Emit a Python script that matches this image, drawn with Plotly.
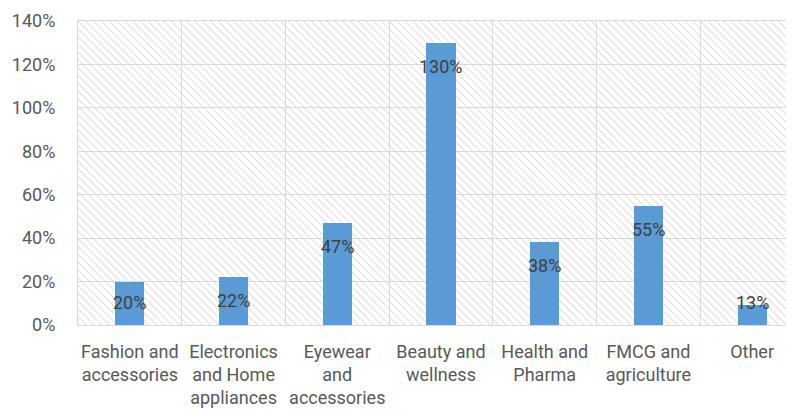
import plotly.graph_objects as go

categories = ["Fashion and<br>accessories", "Electronics<br>and Home<br>appliances",
              "Eyewear<br>and<br>accessories", "Beauty and<br>wellness",
              "Health and<br>Pharma", "FMCG and<br>agriculture", "Other"]
values = [20, 22, 47, 130, 38, 55, 9]
labels = ["20%", "22%", "47%", "130%", "38%", "55%", "13%"]
y_ticks = [0, 20, 40, 60, 80, 100, 120, 140]
y_tick_text = ["0%", "20%", "40%", "60%", "80%", "100%", "120%", "140%"]
y_max = 140

FONT = "Roboto, Arial, sans-serif"
GRID = "#d9d9d9"

fig = go.Figure()

# hatched plot-area background
fig.add_trace(go.Bar(
    x=categories, y=[y_max] * len(categories), width=1,
    marker=dict(color="#dadada", line=dict(width=0),
                pattern=dict(shape="\\", size=5.5, solidity=0.18,
                             fillmode="replace", bgcolor="rgba(0,0,0,0)")),
    hoverinfo="skip", showlegend=False))

fig.add_trace(go.Bar(
    x=categories, y=values, width=0.28,
    marker=dict(color="#5b9bd5", line=dict(width=0)),
    hoverinfo="skip", showlegend=False))

for c, v, t in zip(categories, values, labels):
    fig.add_annotation(x=c, y=max(v - 10.8, 10.5), text=t, showarrow=False,
                       xanchor="center", yanchor="middle",
                       font=dict(family=FONT, size=18, color="#404040"))

fig.update_layout(
    width=786, height=406,
    margin=dict(l=70, r=0, t=13, b=89),
    paper_bgcolor="white", plot_bgcolor="white",
    barmode="overlay", bargap=0,
    font=dict(family=FONT, size=18, color="#595959"),
    xaxis=dict(type="category", range=[-0.5, 6.404], tickson="boundaries",
               showgrid=True, gridcolor=GRID, gridwidth=1,
               showline=True, linecolor=GRID, linewidth=1, mirror=True,
               ticks="", ticklabelstandoff=10, tickangle=0, automargin=False,
               tickfont=dict(family=FONT, size=18, color="#595959")),
    yaxis=dict(range=[0, y_max], tickmode="array", tickvals=y_ticks, ticktext=y_tick_text,
               showgrid=True, gridcolor=GRID, gridwidth=1,
               showline=True, linecolor=GRID, linewidth=1,
               zeroline=False, ticks="", ticklabelstandoff=18, automargin=False,
               tickfont=dict(family=FONT, size=18, color="#595959")),
)

fig.write_html("out.html")
